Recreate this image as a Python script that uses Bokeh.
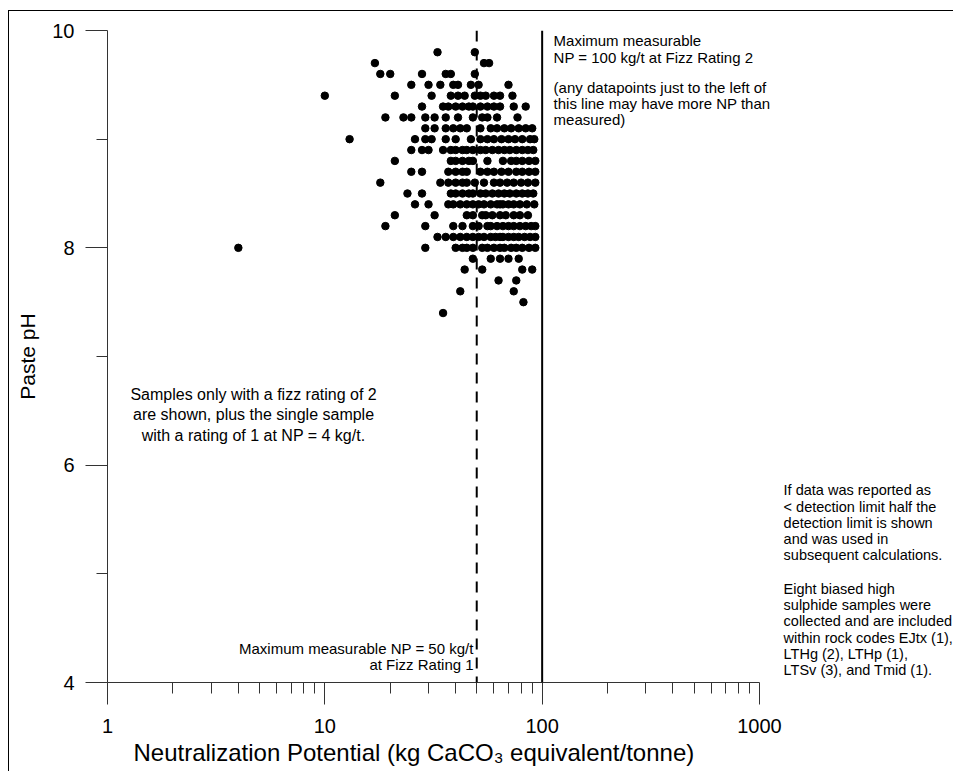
from bokeh.plotting import figure
from bokeh.models import (Range1d, FixedTicker, PrintfTickFormatter, Span, Label,
                          ColumnDataSource, Title)
from bokeh.embed import file_html
from bokeh.resources import INLINE

FONT = "Liberation Sans"

# NP values (kg CaCO3/t) for each paste pH row
np_at_9_8 = [33, 49]
np_at_9_7 = [17, 54, 57]
np_at_9_6 = [18, 20, 28, 36, 38, 49]
np_at_9_5 = [25, 30, 34, 39, 41, 47, 51, 70]
np_at_9_4 = [10, 21, 31, 38, 41, 44, 49, 52, 55, 60, 64, 73]
np_at_9_3 = [28, 35, 37, 40, 43, 46, 48, 52, 56, 60, 64, 74, 84]
np_at_9_2 = [19, 23, 25, 29, 32, 36, 41, 48, 53, 56, 62, 77]
np_at_9_1 = [29, 32, 36, 39, 42, 45, 52, 58, 62, 67, 72, 78, 84, 90]
np_at_9_0 = [13, 26, 29, 31, 36, 40, 47, 52, 56, 60, 65, 70, 75, 81, 88, 92]
np_at_8_9 = [25, 28, 30, 35, 38, 40, 43, 45, 48, 52, 55, 59, 63, 67, 71, 76, 81, 86, 91]
np_at_8_8 = [21, 38, 40, 43, 46, 48, 56, 66, 72, 76, 81, 87, 93]
np_at_8_7 = [25, 28, 37, 40, 43, 45, 52, 56, 60, 65, 70, 76, 81, 87, 93]
np_at_8_6 = [18, 34, 37, 40, 43, 45, 49, 54, 60, 64, 69, 74, 80, 86, 93]
np_at_8_5 = [24, 28, 38, 40, 43, 46, 48, 52, 55, 59, 63, 67, 71, 76, 81, 86, 91]
np_at_8_4 = [26, 30, 37, 39, 42, 45, 48, 51, 54, 58, 62, 64, 66, 70, 74, 79, 85, 92]
np_at_8_3 = [21, 32, 45, 48, 53, 55, 59, 64, 68, 74, 79, 86]
np_at_8_2 = [19, 29, 39, 43, 48, 51, 56, 58, 62, 66, 70, 74, 79, 84, 89, 93]
np_at_8_1 = [33, 36, 39, 42, 45, 48, 51, 54, 58, 61, 64, 66, 70, 74, 78, 83, 88, 93]
np_at_8_0 = [4, 29, 40, 43, 45, 48, 53, 56, 60, 64, 67, 72, 76, 81, 87, 93]
np_at_7_9 = [48, 58, 64, 70, 78]
np_at_7_8 = [44, 53, 81, 90]
np_at_7_7 = [63, 76]
np_at_7_6 = [42, 74]
np_at_7_5 = [82]
np_at_7_4 = [35]

ph_levels = [9.8, 9.7, 9.6, 9.5, 9.4, 9.3, 9.2, 9.1, 9.0, 8.9, 8.8, 8.7, 8.6,
             8.5, 8.4, 8.3, 8.2, 8.1, 8.0, 7.9, 7.8, 7.7, 7.6, 7.5, 7.4]
np_rows = [np_at_9_8, np_at_9_7, np_at_9_6, np_at_9_5, np_at_9_4, np_at_9_3,
           np_at_9_2, np_at_9_1, np_at_9_0, np_at_8_9, np_at_8_8, np_at_8_7,
           np_at_8_6, np_at_8_5, np_at_8_4, np_at_8_3, np_at_8_2, np_at_8_1,
           np_at_8_0, np_at_7_9, np_at_7_8, np_at_7_7, np_at_7_6, np_at_7_5,
           np_at_7_4]

x_major_ticks = [1, 10, 100, 1000]
x_minor_ticks = [2, 3, 4, 5, 6, 7, 8, 9, 20, 30, 40, 50, 60, 70, 80, 90,
                 200, 300, 400, 500, 600, 700, 800, 900]
y_major_ticks = [4, 6, 8, 10]
y_minor_ticks = [5, 7, 9]

fizz1_limit = 50
fizz2_limit = 100

xs, ys = [], []
for lvl, row in zip(ph_levels, np_rows):
    for v in row:
        xs.append(v)
        ys.append(lvl)
src = ColumnDataSource(data=dict(np=xs, ph=ys))

# frame extends past 1000 so the side notes (annotations) are not clipped
p = figure(width=945, height=761, x_axis_type="log",
           x_range=Range1d(1, 7895), y_range=Range1d(4, 10),
           output_backend="svg", toolbar_location=None,
           min_border_left=98, min_border_right=0,
           min_border_top=19, min_border_bottom=90)
p.styles = {"margin-left": "8px", "margin-top": "10px",
            "border-left": "1px solid #000", "border-top": "1px solid #000"}
p.outline_line_color = None
p.xgrid.visible = False
p.ygrid.visible = False
p.background_fill_color = "white"
p.border_fill_color = "white"

for ax in (p.xaxis[0], p.yaxis[0]):
    ax.axis_line_color = "#333"
    ax.major_tick_line_color = "#333"
    ax.minor_tick_line_color = "#333"
    ax.major_tick_in = 0
    ax.major_tick_out = 22
    ax.minor_tick_in = 0
    ax.minor_tick_out = 11
    ax.major_label_text_font = FONT
    ax.major_label_text_font_size = "20px"
    ax.major_label_text_color = "black"

p.xaxis.ticker = FixedTicker(ticks=x_major_ticks, minor_ticks=x_minor_ticks)
p.xaxis.formatter = PrintfTickFormatter(format="%d")
p.xaxis.major_label_standoff = 14
p.xaxis.bounds = (1, 1000)

p.yaxis.ticker = FixedTicker(ticks=y_major_ticks, minor_ticks=y_minor_ticks)
p.yaxis.formatter = PrintfTickFormatter(format="%d")
p.yaxis.major_label_standoff = 11
p.yaxis.axis_label = "Paste pH"
p.yaxis.axis_label_text_font = FONT
p.yaxis.axis_label_text_font_size = "21px"
p.yaxis.axis_label_text_font_style = "normal"
p.yaxis.axis_label_text_color = "black"
p.yaxis.axis_label_standoff = 10

p.add_layout(Title(text="Neutralization Potential (kg CaCO\u2083 equivalent/tonne)",
                   align="left", offset=26, standoff=3,
                   text_font=FONT, text_font_size="24px", text_font_style="normal",
                   text_color="black"), "below")

p.add_layout(Span(location=fizz2_limit, dimension="height", line_color="black", line_width=2))
p.add_layout(Span(location=fizz1_limit, dimension="height", line_color="black", line_width=2,
                  line_dash="11 8"))

p.scatter("np", "ph", source=src, size=7.5, color="black", marker="circle")

def lab(x, y, text, size, align="left", lh=0.96):
    p.add_layout(Label(x=x, y=y, text=text, text_font=FONT, text_font_size=size,
                       text_align=align, text_baseline="top", text_color="black",
                       text_line_height=lh))

lab(112.9, 9.982, "Maximum measurable\nNP = 100 kg/t at Fizz Rating 2", "15px")
lab(112.9, 9.558, "(any datapoints just to the left of\nthis line may have more NP than\nmeasured)", "15px")
lab(48.4, 4.39, "Maximum measurable NP = 50 kg/t\nat Fizz Rating 1", "15px", align="right")
lab(4.70, 6.728, "Samples only with a fizz rating of 2\nare shown, plus the single sample\nwith a rating of 1 at NP = 4 kg/t.", "16px", align="center", lh=1.19)
lab(1291, 5.843, "If data was reported as\n< detection limit half the\ndetection limit is shown\nand was used in\nsubsequent calculations.", "14.5px", lh=1.02)
lab(1291, 4.936, "Eight biased high\nsulphide samples were\ncollected and are included\nwithin rock codes EJtx (1),\nLTHg (2), LTHp (1),\nLTSv (3), and Tmid (1).", "14.5px", lh=1.02)

open("out.html", "w").write(file_html(p, INLINE))
